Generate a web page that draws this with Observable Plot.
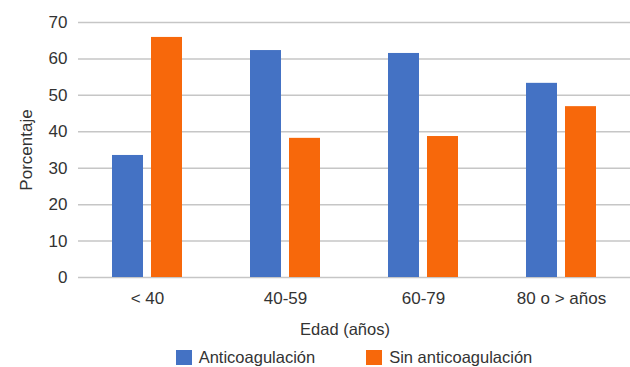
<!DOCTYPE html>
<html>
<head>
<meta charset="utf-8">
<script src="https://cdn.jsdelivr.net/npm/d3@7"></script>
<script src="https://cdn.jsdelivr.net/npm/@observablehq/plot@0.6"></script>
<style>
  html, body { margin: 0; padding: 0; background: #fff; }
  #chart { position: relative; width: 630px; height: 367px; font-family: "Liberation Sans", Arial, sans-serif; color: #333; }
  #chart svg { display: block; }
  .xlabel { position: absolute; left: 0; width: 690px; top: 319px; height: 20px; line-height: 20px;
            text-align: center; font-size: 16.5px; white-space: nowrap; }
  .legend { display: flex; justify-content: center; align-items: center; height: 21px; line-height: 21px;
            margin-top: 1px; padding-left: 78px; font-size: 16.5px; white-space: nowrap; }
  .legend .item { display: flex; align-items: center; }
  .legend .item + .item { margin-left: 51px; }
  .legend .sw { width: 16px; height: 15px; margin-right: 7px; }
</style>
</head>
<body>
<div id="chart"></div>
<script>
// Age groups and the share (%) of patients in each treatment group
const categories = ["< 40", "40-59", "60-79", "80 o > años"];
const series = ["Anticoagulación", "Sin anticoagulación"];
const anticoagulacion = [33.5, 62.3, 61.5, 53.3];
const sinAnticoagulacion = [65.9, 38.2, 38.7, 46.9];
const yTicks = [0, 10, 20, 30, 40, 50, 60, 70];
const colors = ["#4472C4", "#F7680B"];
const xTitle = "Edad (años)";
const yTitle = "Porcentaje";

const rows = categories.flatMap((c, i) => [
  {grupo: c, serie: series[0], valor: anticoagulacion[i]},
  {grupo: c, serie: series[1], valor: sinAnticoagulacion[i]}
]);

const svg = Plot.plot({
  width: 630,
  height: 346,
  marginLeft: 78,
  marginRight: 0,
  marginTop: 22,
  marginBottom: 69,
  style: {fontFamily: "Liberation Sans, Arial, sans-serif", fontSize: "17px", color: "#333", background: "#fff"},
  fx: {domain: categories, padding: 0, tickSize: 0, tickPadding: 14, label: null},
  x: {domain: series, paddingInner: 0.2025, paddingOuter: 0.848, axis: null},
  y: {domain: [0, 70], ticks: yTicks, tickSize: 0, tickPadding: 11, label: yTitle,
      labelAnchor: "center", labelOffset: 59, labelArrow: "none"},
  color: {domain: series, range: colors},
  marks: [
    Plot.gridY(yTicks, {stroke: "#c6c6c6", strokeOpacity: 1, strokeWidth: 1.5}),
    Plot.barY(rows, {fx: "grupo", x: "serie", y: "valor", fill: "serie"})
  ]
});

const chart = document.getElementById("chart");
chart.appendChild(svg);

// Horizontal axis title
const xl = document.createElement("div");
xl.className = "xlabel";
xl.textContent = xTitle;
chart.appendChild(xl);

// Legend below the plot
const legend = document.createElement("div");
legend.className = "legend";
series.forEach((s, i) => {
  const item = document.createElement("div");
  item.className = "item";
  const sw = document.createElement("span");
  sw.className = "sw";
  sw.style.background = colors[i];
  const label = document.createElement("span");
  label.textContent = s;
  item.appendChild(sw);
  item.appendChild(label);
  legend.appendChild(item);
});
chart.appendChild(legend);
</script>
</body>
</html>
